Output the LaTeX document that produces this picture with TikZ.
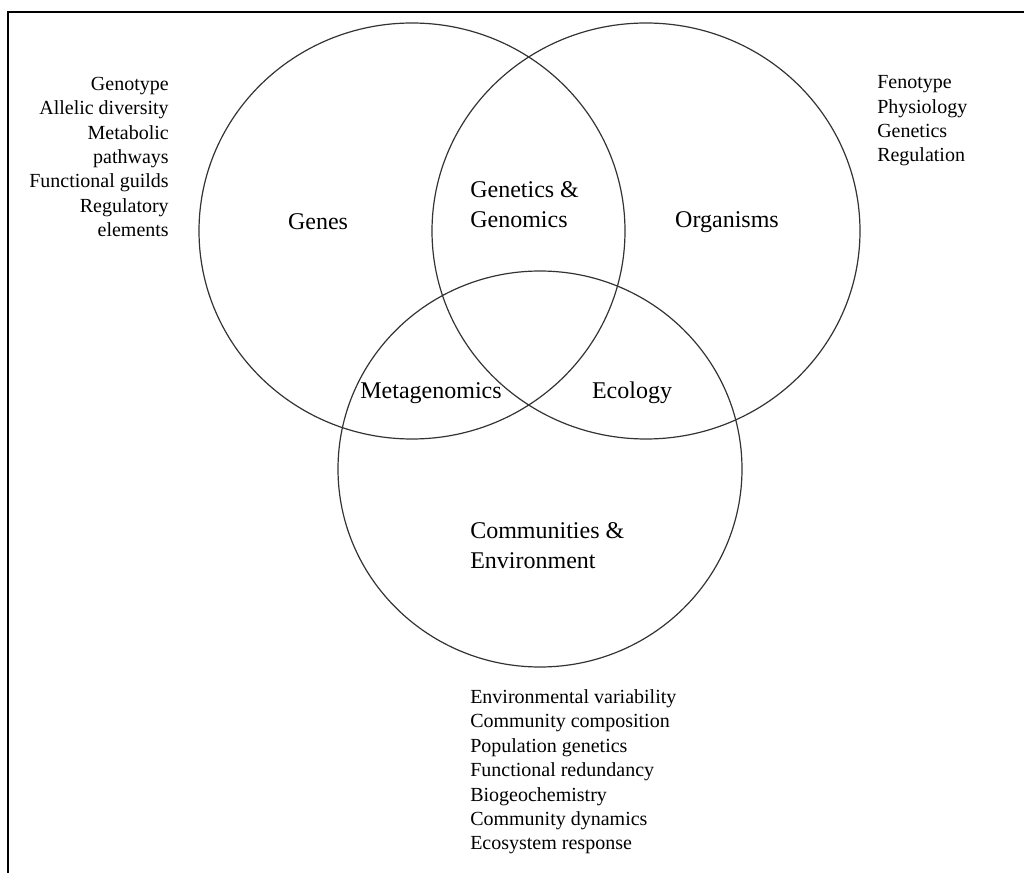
\documentclass[tikz,border=0pt]{standalone}
\usepackage{fontspec}
\setmainfont{Liberation Serif}
\begin{document}
\begin{tikzpicture}[
    x=0.75pt, y=-0.75pt,
    frame/.style={line width=1.5pt, black},
    venn/.style={line width=0.9pt, black!80},
    region/.style={font=\fontsize{18}{22.5}\selectfont, inner sep=0pt},
    notes/.style={font=\fontsize{15}{18.3}\selectfont, inner sep=0pt},
]
\useasboundingbox (0,0) rectangle (1024,873);

% Frame (top and left edges only)
\draw[frame] (8,873) -- (8,12) -- (1024,12);

% The three circles
\draw[venn] (412,231) ellipse [x radius=213, y radius=208];
\draw[venn] (646,231) ellipse [x radius=214, y radius=208];
\draw[venn] (540,469) ellipse [x radius=202, y radius=198];

% Region labels
\node[region] (genes) at (318,222) {Genes};
\node[region] (organisms) at (727,222) {Organisms};
\node[region, align=left, anchor=west] (genomics) at (470,205)
     {Genetics \&\\Genomics};
\node[region] (meta) at (431,393) {Metagenomics};
\node[region] (ecology) at (632,393) {Ecology};
\node[region, align=left, anchor=west] (communities) at (470,546)
     {Communities \&\\Environment};

% Side notes
\node[notes, align=right, anchor=east] (genenotes) at (169,157)
     {Genotype\\Allelic diversity\\Metabolic\\pathways\\
      Functional guilds\\Regulatory\\elements};
\node[notes, align=left, anchor=west] (orgnotes) at (877,121)
     {Fenotype\\Physiology\\Genetics\\Regulation};
\node[notes, align=left, anchor=west] (commnotes) at (470,772)
     {Environmental variability\\Community composition\\
      Population genetics\\Functional redundancy\\Biogeochemistry\\
      Community dynamics\\Ecosystem response};

\end{tikzpicture}
\end{document}
